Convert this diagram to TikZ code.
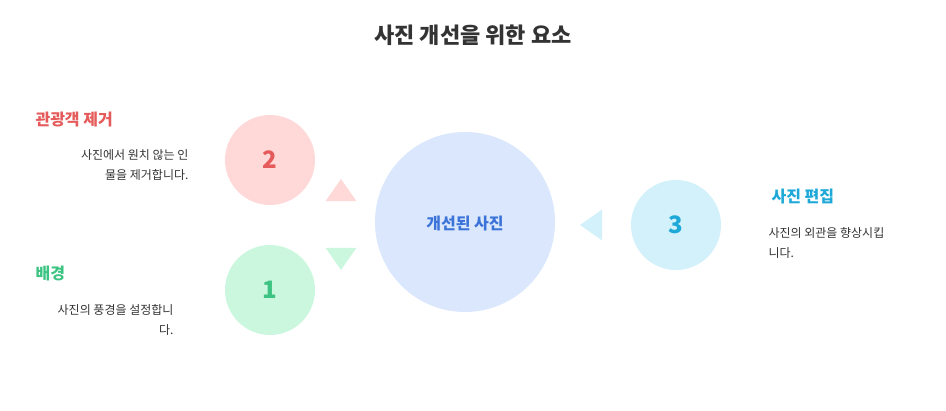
\documentclass[tikz,border=0pt]{standalone}
\usepackage{fontspec}
\usetikzlibrary{shapes.geometric}
\setmainfont{Noto Sans CJK KR}
\definecolor{pinkc}{HTML}{FFD8D8}
\definecolor{redt}{HTML}{E55A5A}
\definecolor{greenc}{HTML}{CBF7DF}
\definecolor{greent}{HTML}{3DC483}
\definecolor{cyanc}{HTML}{D3F1FB}
\definecolor{cyant}{HTML}{1EA8D8}
\definecolor{bigc}{HTML}{DAE7FC}
\definecolor{bigt}{HTML}{3B73D9}
\definecolor{txt}{HTML}{333333}
\begin{document}
\begin{tikzpicture}[x=1pt,y=-1pt,
  circ/.style={circle,inner sep=0pt,minimum size=90pt},
  num/.style={font=\fontsize{24}{24}\selectfont\bfseries},
  head/.style={font=\fontsize{16}{18}\selectfont\bfseries},
  desc/.style={font=\fontsize{12}{20}\selectfont,text=txt},
  tri/.style={draw=none,isosceles triangle,isosceles triangle apex angle=70,inner sep=0pt,minimum size=22pt}]
\useasboundingbox (0,0) rectangle (946,411);
\node[font=\fontsize{22}{24}\selectfont\bfseries,text=txt] (title) at (473,35) {사진 개선을 위한 요소};
\node[circ,minimum size=180pt,fill=bigc] (big) at (465,222) {};
\node[font=\fontsize{16}{18}\selectfont\bfseries,text=bigt] (bigl) at (465,224) {개선된 사진};
\node[circ,fill=pinkc] (c2) at (270,160) {};
\node[num,text=redt] (n2) at (270,160) {2};
\node[circ,fill=greenc] (c1) at (270,290) {};
\node[num,text=greent] (n1) at (270,290) {1};
\node[circ,fill=cyanc] (c3) at (676,225) {};
\node[num,text=cyant] (n3) at (676,225) {3};
\node[tri,fill=pinkc,shape border rotate=90] (t2) at (341,193) {};
\node[tri,fill=greenc,shape border rotate=-90] (t1) at (341,256) {};
\node[tri,fill=cyanc,shape border rotate=180] (t3) at (594,225) {};
\node[head,text=redt,anchor=west] (h2) at (32,120) {관광객 제거};
\node[desc,anchor=north east,align=right] (d2) at (192,146) {사진에서 원치 않는 인\\물을 제거합니다.};
\node[head,text=greent,anchor=west] (h1) at (32,274) {배경};
\node[desc,anchor=north east,align=right] (d1) at (177,301) {사진의 풍경을 설정합니\\다.};
\node[head,text=cyant,anchor=west] (h3) at (768,197) {사진 편집};
\node[desc,anchor=north west,align=left] (d3) at (765,224) {사진의 외관을 향상시킵\\니다.};
\end{tikzpicture}
\end{document}
